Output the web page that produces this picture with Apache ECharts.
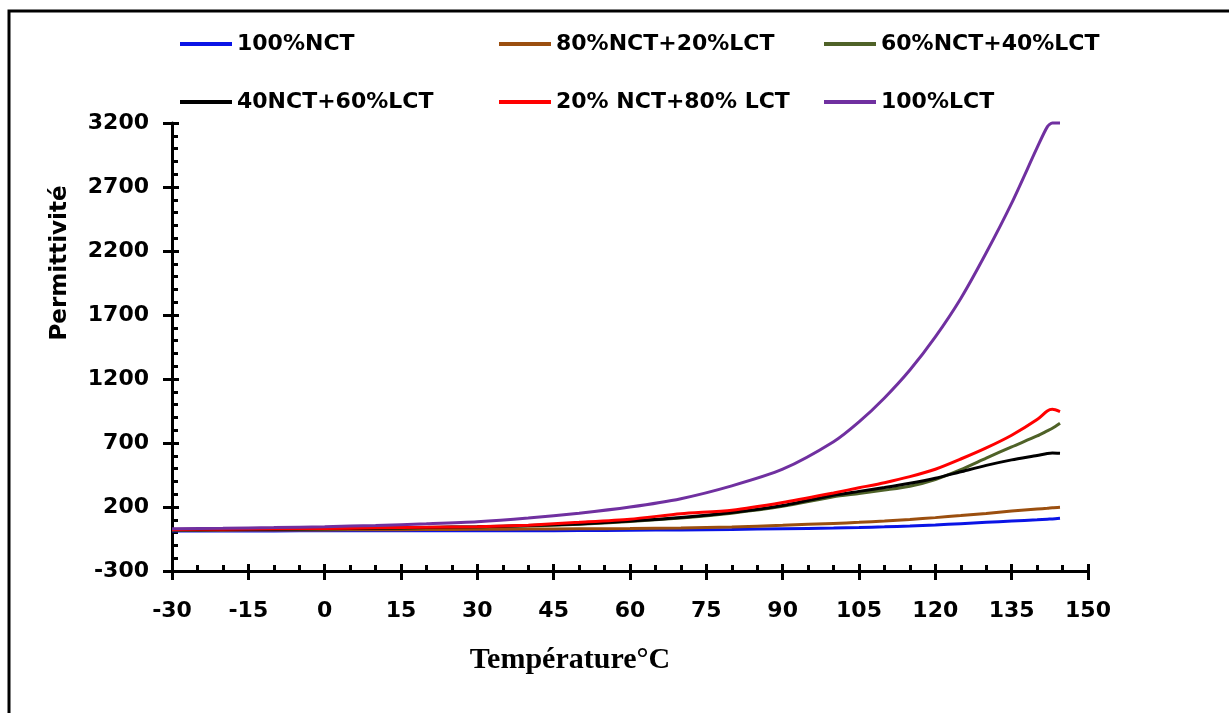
<!DOCTYPE html>
<html>
<head>
<meta charset="utf-8">
<script src="https://cdn.jsdelivr.net/npm/echarts@6/dist/echarts.min.js"></script>
<style>
html,body{margin:0;padding:0;background:#fff;}
#chart{width:1229px;height:713px;}
</style>
</head>
<body>
<div id="chart"></div>
<script>
// Temperatures (°C)
const temps = [-30,-20,-10,0,10,20,30,40,50,60,70,80,90,100,105,110,115,120,125,130,135,140,142,143,144.5];
// Permittivity values
const nct100      = [12,13,13,14,14,14,15,15,16,18,21,25,30,36,40,45,52,60,70,80,90,100,105,107,112];
const nct80lct20  = [18,19,20,21,22,24,26,28,30,32,36,44,57,72,80,90,102,117,133,150,168,184,190,194,198];
const nct60lct40  = [22,24,26,29,33,38,44,52,66,87,115,152,205,280,305,332,362,415,492,582,670,755,795,815,854];
const nct40lct60  = [22,24,27,30,34,40,46,55,68,90,118,157,212,292,322,352,385,425,475,525,568,603,618,622,620];
const nct20lct80  = [25,27,30,33,37,41,46,58,80,105,147,175,235,310,350,390,437,495,575,662,761,883,950,963,945];
const lct100      = [30,34,39,46,56,69,85,114,152,200,265,365,495,710,865,1052,1270,1529,1829,2186,2574,3007,3170,3200,3200];

const seriesNames = ['100%NCT','80%NCT+20%LCT','60%NCT+40%LCT','40NCT+60%LCT','20% NCT+80% LCT','100%LCT'];
const seriesValues = [nct100, nct80lct20, nct60lct40, nct40lct60, nct20lct80, lct100];
const seriesColors = ['#0a14e6','#9b4f0f','#4f6228','#000000','#ff0000','#7030a0'];

const xTicks = {min:-30, max:150, interval:15};
const yTicks = {min:-300, max:3200, interval:500};

const FONT = "'DejaVu Sans', sans-serif";

const chart = echarts.init(document.getElementById('chart'), null, {renderer:'canvas'});

const legendPos = [
  [180, 33],[499, 33],[824, 33],
  [180, 91],[499, 91],[824, 91]
];

const legends = seriesNames.map((n, i) => ({
  data: [n],
  left: legendPos[i][0],
  top: legendPos[i][1],
  padding: 0,
  icon: 'rect',
  itemWidth: 52,
  itemHeight: 4,
  textStyle: {fontFamily: FONT, fontWeight: 'bold', fontSize: 22, color: '#000'},
  selectedMode: false
}));

const plain = v => String(v);

const option = {
  backgroundColor: '#fff',
  animation: false,
  legend: legends,
  grid: {left: 172, top: 123, width: 916, height: 448, containLabel: false},
  xAxis: [
    {
      type: 'value', min: xTicks.min, max: xTicks.max, interval: xTicks.interval,
      axisLine: {show: true, onZero: false, lineStyle: {color: '#000', width: 3}},
      axisTick: {show: true, inside: true, length: 7, lineStyle: {color: '#000', width: 3}},
      minorTick: {show: true, splitNumber: 3, length: 6, lineStyle: {color: '#000', width: 3}},
      splitLine: {show: false},
      axisLabel: {fontFamily: FONT, fontWeight: 'bold', fontSize: 22, color: '#000', margin: 29, formatter: plain}
    },
    {
      type: 'value', min: xTicks.min, max: xTicks.max, interval: xTicks.interval, position: 'bottom',
      axisLine: {show: false, onZero: false},
      axisTick: {show: true, inside: false, length: 9, lineStyle: {color: '#000', width: 3}},
      splitLine: {show: false},
      axisLabel: {show: false}
    }
  ],
  yAxis: [
    {
      type: 'value', min: yTicks.min, max: yTicks.max, interval: yTicks.interval,
      axisLine: {show: true, onZero: false, lineStyle: {color: '#000', width: 3}},
      axisTick: {show: true, inside: true, length: 7, lineStyle: {color: '#000', width: 3}},
      minorTick: {show: true, splitNumber: 5, length: 6, lineStyle: {color: '#000', width: 3}},
      splitLine: {show: false},
      axisLabel: {fontFamily: FONT, fontWeight: 'bold', fontSize: 22, color: '#000', margin: 23, formatter: plain}
    },
    {
      type: 'value', min: yTicks.min, max: yTicks.max, interval: yTicks.interval, position: 'left',
      axisLine: {show: false, onZero: false},
      axisTick: {show: true, inside: false, length: 9, lineStyle: {color: '#000', width: 3}},
      splitLine: {show: false},
      axisLabel: {show: false}
    }
  ],
  series: seriesNames.map((n, i) => ({
    name: n,
    type: 'line',
    xAxisIndex: 0,
    yAxisIndex: 0,
    data: temps.map((t, j) => [t, seriesValues[i][j]]),
    showSymbol: false,
    symbol: 'none',
    smooth: 0.25,
    clip: false,
    color: seriesColors[i],
    lineStyle: {color: seriesColors[i], width: 3}
  })),
  graphic: [
    {
      type: 'polyline',
      shape: {points: [[9, 713], [9, 11], [1229, 11]]},
      style: {stroke: '#000', lineWidth: 3, fill: null}
    },
    {
      type: 'text',
      x: 60, y: 263, rotation: Math.PI / 2,
      style: {text: 'Permittivité', fontFamily: FONT, fontWeight: 'bold', fontSize: 23, fill: '#000', align: 'center', verticalAlign: 'middle'}
    },
    {
      type: 'text',
      x: 570, y: 660,
      style: {text: 'Température°C', fontFamily: "'Liberation Serif', 'Times New Roman', serif", fontWeight: 'bold', fontSize: 30, fill: '#000', align: 'center', verticalAlign: 'middle'}
    }
  ]
};

chart.setOption(option);
</script>
</body>
</html>
